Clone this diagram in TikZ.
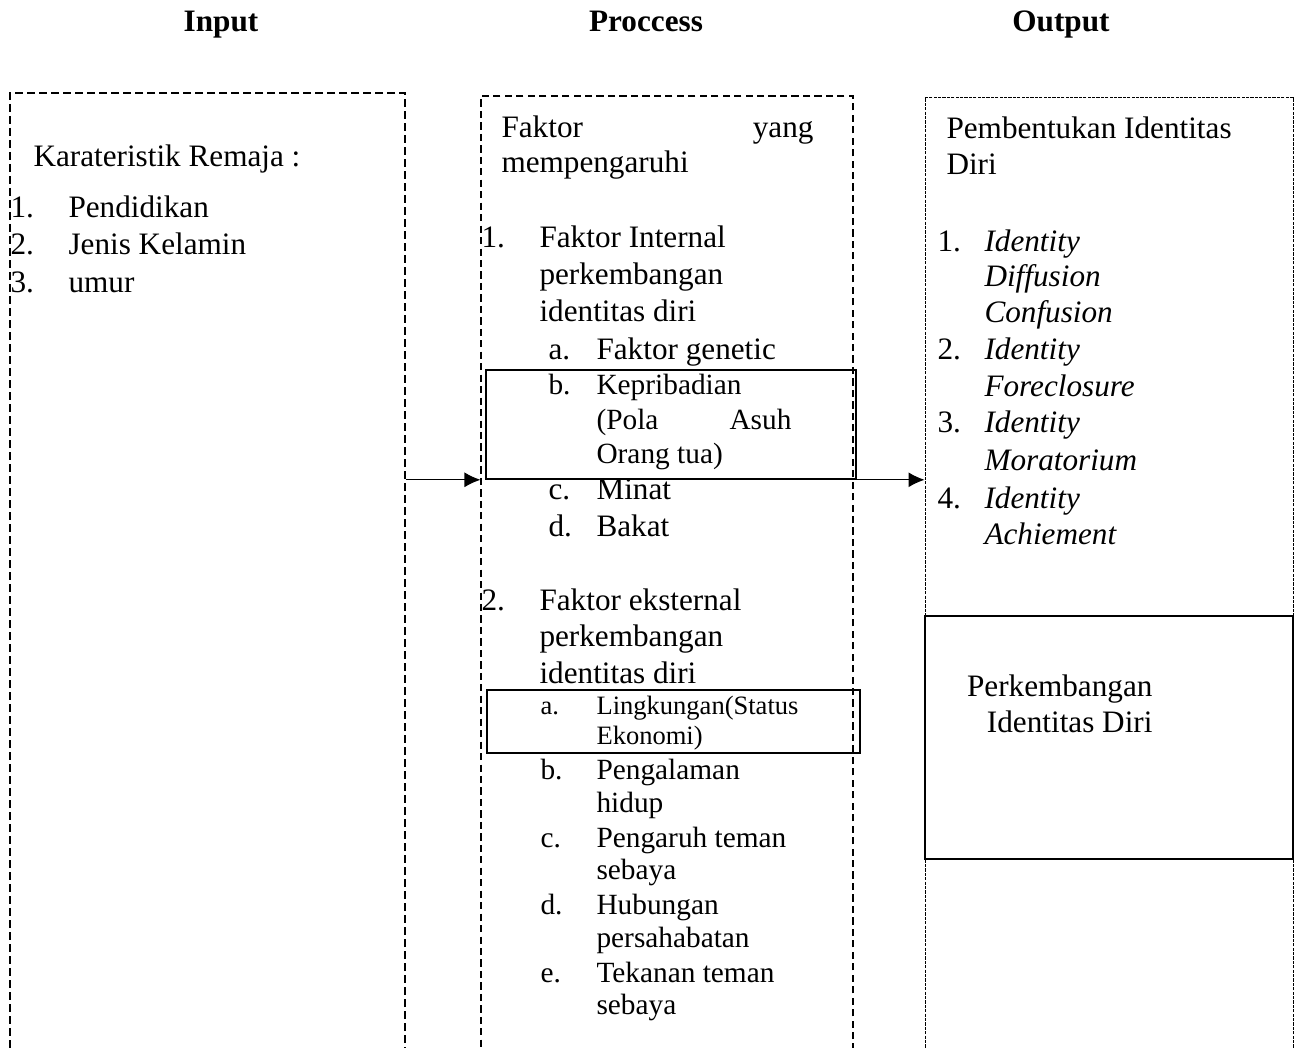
\documentclass[tikz,border=0pt]{standalone}
\usepackage{fontspec}
\setmainfont{Liberation Serif}
\usetikzlibrary{arrows.meta,fit}
\begin{document}
\begin{tikzpicture}[x=0.375pt,y=-0.375pt,
  t/.style={inner sep=0,anchor=base west,font=\fontsize{11.7}{14}\selectfont},
  ts/.style={t,font=\fontsize{11}{13}\selectfont},
  tx/.style={t,font=\fontsize{9.95}{12}\selectfont},
  ti/.style={t,font=\fontsize{11.7}{14}\selectfont\itshape},
  te/.style={t,anchor=base east},
  hd/.style={inner sep=0,anchor=base,font=\fontsize{11.7}{14}\selectfont\bfseries},
  boxA/.style={draw,inner sep=0,line width=0.45pt,dash pattern=on 3pt off 1.5pt},
  boxB/.style={draw,inner sep=0,line width=0.4pt,dash pattern=on 2.7pt off 1.6pt},
  boxC/.style={draw,inner sep=0,line width=0.35pt,dash pattern=on 1.2pt off 0.45pt},
  sbox/.style={draw,inner sep=0,line width=0.6pt},
  arr/.style={-{Latex[length=6pt,width=5.6pt]},line width=0.4pt}]
\useasboundingbox (0,0) rectangle (1295,1048);
\clip (0,0) rectangle (1295,1048);
% headers
\node[hd] (hin) at (221,32) {Input};
\node[hd] (hpr) at (646,32) {Proccess};
\node[hd] (hout) at (1061,32) {Output};
% big boxes (open below the page)
\coordinate (a1) at (10,93);   \coordinate (a2) at (405,1080);
\coordinate (b1) at (481,96);  \coordinate (b2) at (853,1080);
\coordinate (c1) at (925,97);  \coordinate (c2) at (1293,1080);
\node[boxA,fit=(a1)(a2)] (input) {};
\node[boxB,fit=(b1)(b2)] (proc) {};
\node[boxC,fit=(c1)(c2)] (output) {};
% solid boxes
\coordinate (d1) at (486,370); \coordinate (d2) at (856,479);
\coordinate (e1) at (487,690); \coordinate (e2) at (860,753);
\coordinate (f1) at (925,616); \coordinate (f2) at (1293,859);
\node[sbox,fit=(d1)(d2)] (kep) {};
\node[sbox,fit=(e1)(e2)] (ling) {};
\node[sbox,fit=(f1)(f2)] (perk) {};
% arrows
\draw[arr] (input.east |- kep.south) -- (proc.west |- kep.south);
\draw[arr] (kep.south east) -- (output.west |- kep.south);
% input text
\node[t] (i0) at (33,167) {Karateristik Remaja :};
\node[t] (i1n) at (10,218) {1.};  \node[t] (i1) at (68,218) {Pendidikan};
\node[t] (i2n) at (10,255) {2.};  \node[t] (i2) at (68,255) {Jenis Kelamin};
\node[t] (i3n) at (10,293) {3.};  \node[t] (i3) at (68,293) {umur};
% process text
\node[t] (p0a) at (501,138) {Faktor};
\node[te] (p0b) at (814,138) {yang};
\node[t] (p0c) at (501,173) {mempengaruhi};
\node[t] (p1n) at (481,248) {1.};  \node[t] (p1) at (539,248) {Faktor Internal};
\node[t] (p1b) at (539,285) {perkembangan};
\node[t] (p1c) at (539,322) {identitas diri};
\node[t] (pan) at (548,359) {a.};  \node[t] (pa) at (596,359) {Faktor genetic};
\node[ts] (pbn) at (548,394) {b.};  \node[ts] (pb) at (596,394) {Kepribadian};
\node[ts] (pb2) at (596,429) {(Pola};
\node[ts,anchor=base east] (pb3) at (792,429) {Asuh};
\node[ts] (pb4) at (596,463) {Orang tua)};
\node[t] (pcn) at (548,499) {c.};  \node[t] (pc) at (596,499) {Minat};
\node[t] (pdn) at (548,536) {d.};  \node[t] (pd) at (596,536) {Bakat};
\node[t] (p2n) at (481,610) {2.};  \node[t] (p2) at (539,610) {Faktor eksternal};
\node[t] (p2b) at (539,646) {perkembangan};
\node[t] (p2c) at (539,683) {identitas diri};
\node[tx] (qan) at (540,714) {a.};  \node[tx] (qa) at (596,714) {Lingkungan(Status};
\node[tx] (qa2) at (596,744) {Ekonomi)};
\node[ts] (qbn) at (540,779) {b.};  \node[ts] (qb) at (596,779) {Pengalaman};
\node[ts] (qb2) at (596,812) {hidup};
\node[ts] (qcn) at (540,847) {c.};  \node[ts] (qc) at (596,847) {Pengaruh teman};
\node[ts] (qc2) at (596,879) {sebaya};
\node[ts] (qdn) at (540,914) {d.};  \node[ts] (qd) at (596,914) {Hubungan};
\node[ts] (qd2) at (596,947) {persahabatan};
\node[ts] (qen) at (540,982) {e.};  \node[ts] (qe) at (596,982) {Tekanan teman};
\node[ts] (qe2) at (596,1014) {sebaya};
% output text
\node[t] (o0) at (946,139) {Pembentukan Identitas};
\node[t] (o0b) at (946,175) {Diri};
\node[t] (o1n) at (937,252) {1.};  \node[ti] (o1) at (984,252) {Identity};
\node[ti] (o1b) at (984,287) {Diffusion};
\node[ti] (o1c) at (984,323) {Confusion};
\node[t] (o2n) at (937,360) {2.};  \node[ti] (o2) at (984,360) {Identity};
\node[ti] (o2b) at (984,396) {Foreclosure};
\node[t] (o3n) at (937,433) {3.};  \node[ti] (o3) at (984,433) {Identity};
\node[ti] (o3b) at (984,470) {Moratorium};
\node[t] (o4n) at (937,508) {4.};  \node[ti] (o4) at (984,508) {Identity};
\node[ti] (o4b) at (984,544) {Achiement};
\node[te] (r1) at (1153,696) {Perkembangan};
\node[te] (r2) at (1153,732) {Identitas Diri};
\end{tikzpicture}
\end{document}
